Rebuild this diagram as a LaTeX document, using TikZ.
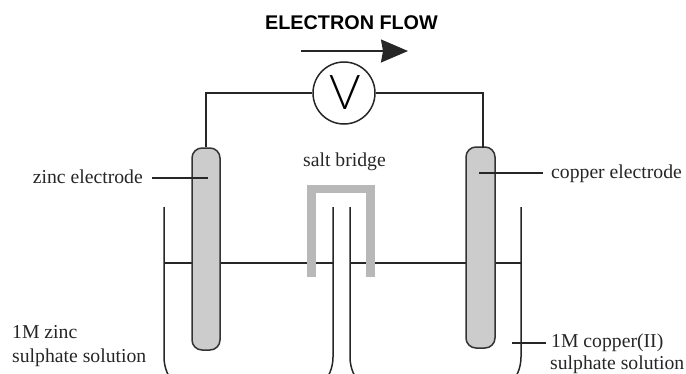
\documentclass[tikz,border=0pt]{standalone}
\usepackage{fontspec}
\setmainfont{Liberation Serif}
\setsansfont{Liberation Sans}
\newfontfamily\voltfont{Lato Light}
\usetikzlibrary{arrows.meta}
\tikzset{
  wire/.style={draw=black!85, line width=1.5pt},
  electrode/.style={rectangle, draw=black!80, line width=1.5pt, fill=black!20, rounded corners=10pt, inner sep=0pt},
  label/.style={font=\fontsize{19.7}{21}\selectfont, text=black!85, inner sep=0pt},
  bridge/.style={draw=black!28, line width=8.5pt, line cap=butt, line join=miter}
}
\begin{document}
\begin{tikzpicture}[x=1pt, y=-1pt]
    \clip (0,0) rectangle (686,373);
    \coordinate (lefttop1) at (164,207);
    \coordinate (lefttop2) at (333,207);
    \coordinate (righttop1) at (350,207);
    \coordinate (righttop2) at (521,207);
    \draw[wire, rounded corners=40pt] (lefttop1) -- (164,397) -- (333,397) -- (lefttop2);
    \draw[wire, rounded corners=40pt] (righttop1) -- (350,397) -- (521,397) -- (righttop2);
    \coordinate (leftedge1) at (164,263);
    \coordinate (leftedge2) at (333,263);
    \coordinate (rightedge1) at (350,263);
    \coordinate (rightedge2) at (521,263);
    \draw[wire] (leftedge1) -- (leftedge2);
    \draw[wire] (rightedge1) -- (rightedge2);
    \node[electrode, minimum width=28pt, minimum height=202pt] (zinc) at (206,249) {};
    \node[electrode, minimum width=29pt, minimum height=201pt] (copper) at (480.5,247.5) {};
    \node[circle, draw=black!85, line width=1.5pt, minimum size=62pt, inner sep=0pt, font=\voltfont\fontsize{48}{48}\selectfont] (volt) at (344,93) {\hspace{3pt}V};
    \coordinate (copperjoin) at (483,148);
    \draw[wire] (zinc.north) |- (volt.west);
    \draw[wire] (copperjoin) |- (volt.east);
    \coordinate (flowstart) at (301,51);
    \coordinate (flowend) at (408,51);
    \draw[wire, -{Stealth[length=27pt, width=23pt, inset=2pt]}] (flowstart) -- (flowend);
    \node[font=\sffamily\bfseries\fontsize{19.8}{21}\selectfont, inner sep=0pt] (flow) at (351.5,23) {ELECTRON FLOW};
    \coordinate (bridgeleft) at (311.5,277);
    \coordinate (bridgeright) at (370.5,277);
    \draw[bridge] (bridgeleft) -- (311.5,189) -- (370.5,189) -- (bridgeright);
    \node[label] (saltlabel) at (344.5,162) {salt bridge};
    \node[label, anchor=east] (zinclabel) at (143,177) {zinc electrode};
    \node[label, anchor=west] (copperlabel) at (551,174) {copper electrode};
    \node[label, anchor=base west] (zincsol1) at (12,338) {1M zinc};
    \node[label, anchor=base west] (zincsol2) at (12,362) {sulphate solution};
    \node[label, anchor=base west] (coppersol1) at (551,347) {1M copper(II)};
    \node[label, anchor=base west] (coppersol2) at (550,369.5) {sulphate solution};
    \coordinate (zincpoint) at (208,178);
    \coordinate (zincstart) at (152,178);
    \coordinate (copperpoint) at (479,173);
    \coordinate (copperstart) at (543,173);
    \coordinate (solpoint) at (512,343);
    \coordinate (solstart) at (546,343);
    \draw[wire] (zincstart) -- (zincpoint);
    \draw[wire] (copperstart) -- (copperpoint);
    \draw[wire] (solstart) -- (solpoint);
  \end{tikzpicture}
\end{document}
